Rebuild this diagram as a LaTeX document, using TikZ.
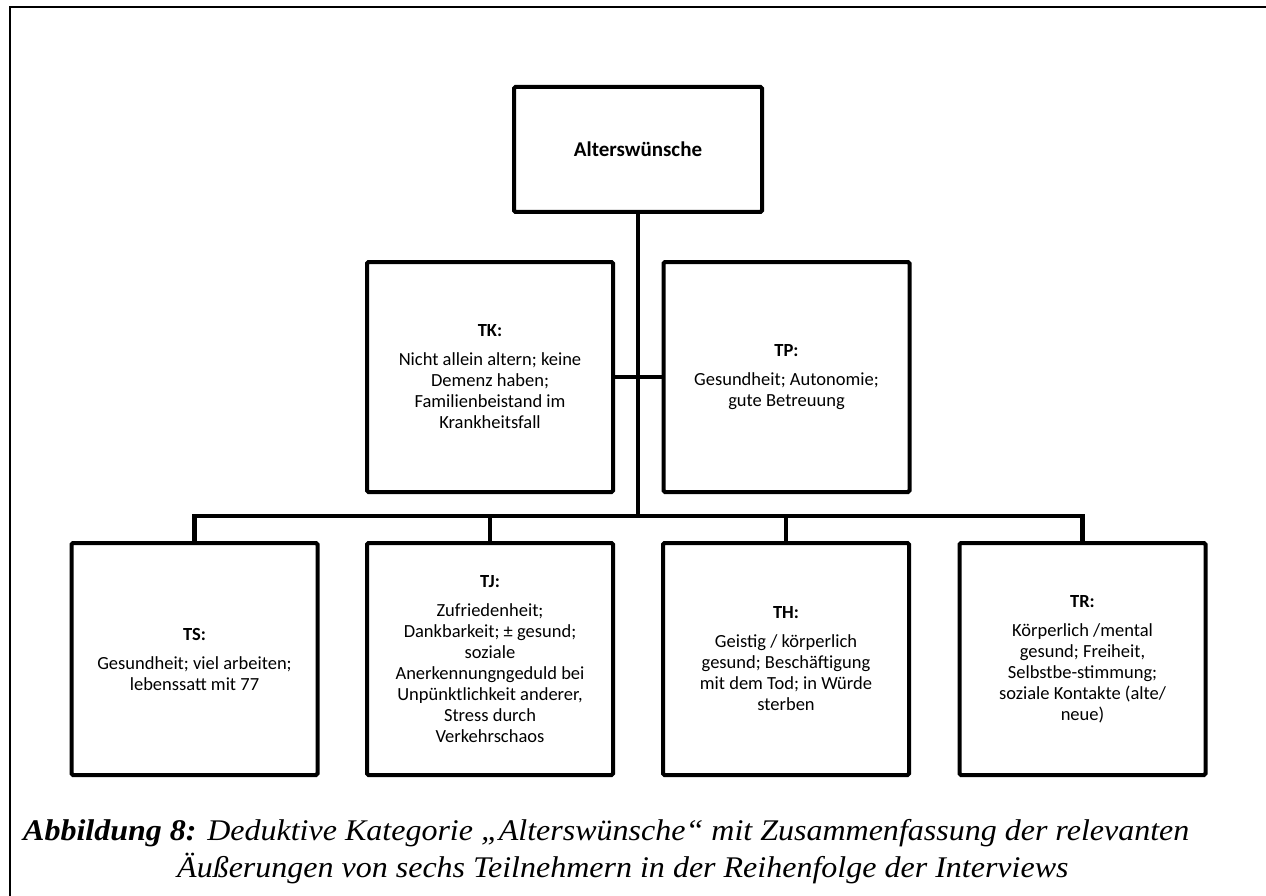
\documentclass[tikz,border=0pt]{standalone}
\usepackage{fontspec}
\newfontfamily\boxfont{Carlito}
\newfontfamily\capfont[FakeStretch=1.067]{Liberation Serif}
\begin{document}
\begin{tikzpicture}[x=1pt,y=-1pt,
  box/.style={draw=black,line width=4pt,rounded corners=1.5pt,fill=white,minimum width=246pt,minimum height=230pt,
    inner sep=4pt,align=center,font=\boxfont\fontsize{18.5}{21}\selectfont},
  rootbox/.style={box,minimum width=248pt,minimum height=125pt,font=\boxfont\bfseries\fontsize{21}{24}\selectfont},
  lowbox/.style={box,minimum height=232pt},
  conn/.style={draw=black,line width=4.5pt},
  frame/.style={draw=black,line width=2.5pt},
  captext/.style={font=\capfont\itshape\fontsize{30}{37}\selectfont,anchor=base west,inner sep=0pt}]
\useasboundingbox (0,0) rectangle (1266,896);
% open frame around the figure
\draw[frame] (10,896) -- (10,7) -- (1266,7);

% category and the six interview summaries
\node[rootbox] (root) at (638,149.5) {Alterswünsche};
\node[box] (tk) at (490,377) {\textbf{TK:}\\[8pt]Nicht allein altern; keine\\Demenz haben;\\Familienbeistand im\\Krankheitsfall};
\node[box] (tp) at (786.5,377) {\textbf{TP:}\\[8pt]Gesundheit; Autonomie;\\gute Betreuung};
\node[lowbox] (ts) at (194.5,659) {\textbf{TS:}\\[8pt]Gesundheit; viel arbeiten;\\lebenssatt mit 77};
\node[lowbox] (tj) at (490,659) {\textbf{TJ:}\\[8pt]Zufriedenheit;\\Dankbarkeit; ± gesund;\\soziale\\Anerkennungngeduld bei\\Unpünktlichkeit anderer,\\Stress durch\\Verkehrschaos};
\node[lowbox] (th) at (786,659) {\textbf{TH:}\\[8pt]Geistig / körperlich\\gesund; Beschäftigung\\mit dem Tod; in Würde\\sterben};
\node[lowbox] (tr) at (1082.5,659) {\textbf{TR:}\\[8pt]Körperlich /mental\\gesund; Freiheit,\\Selbstbe-stimmung;\\soziale Kontakte (alte/\\neue)};

% connectors
\coordinate (hub) at (638,516);
\draw[conn] (root.south) -- (hub);
\draw[conn] (tk.east) -- (tp.west);
\draw[conn] (ts.north) |- (hub) -| (tr.north);
\draw[conn] (tj.north) -- (tj.north |- hub);
\draw[conn] (th.north) -- (th.north |- hub);

% caption, second line with hanging indent
\node[captext] (cap1) at (23,840) {\textbf{Abbildung 8:} Deduktive Kategorie „Alterswünsche“ mit Zusammenfassung der relevanten};
\node[captext] (cap2) at (177,877) {Äußerungen von sechs Teilnehmern in der Reihenfolge der Interviews};
\end{tikzpicture}
\end{document}
